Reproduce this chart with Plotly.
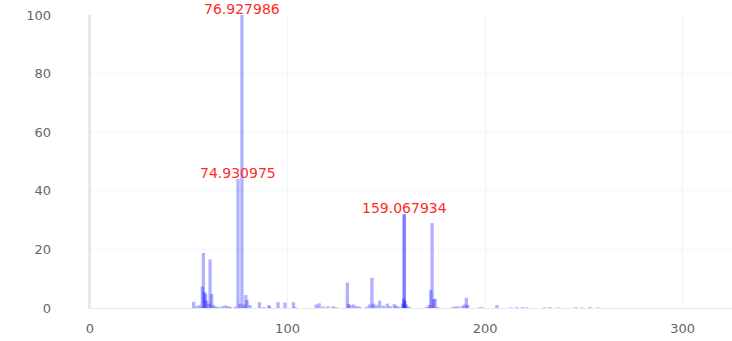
import plotly.graph_objects as go

# m/z values and relative intensities
mz = [52.5, 54.0, 55.5, 56.9, 57.4, 58.0, 58.5, 59.0, 60.2, 60.8, 61.6, 62.5,
      63.5, 65.0, 67.0, 68.5, 70.0, 71.0, 73.5, 74.930975, 75.9, 76.927986,
      77.9, 78.9, 79.5, 81.0, 85.8, 88.0, 90.5, 91.0, 95.2, 98.7,
      103.0, 104.0,
      114.5, 116.0, 118.0, 120.5, 123.0, 124.5, 130.3, 130.9, 132.0, 133.5,
      135.0, 136.5, 140.0, 141.5, 142.7, 143.5, 145.0, 146.6, 148.5, 150.5,
      152.0, 154.0, 155.0, 156.5, 158.3, 158.8, 159.067934, 159.067934,
      159.5, 160.2, 161.0, 162.0,
      170.5, 171.8, 172.5, 173.2, 174.0, 174.7, 176.0, 183.5, 185.0, 186.5,
      188.5, 189.8, 190.5, 191.3, 197.5, 199.0, 206.0, 213.0, 216.0, 219.0,
      221.0, 230.0, 233.0, 237.0, 246.0, 249.0, 253.0, 257.0]
intensity = [2.1, 0.6, 1.0, 7.3, 18.8, 5.5, 4.8, 2.5, 1.5, 16.6, 4.8, 1.0,
             0.5, 0.4, 0.6, 0.9, 0.6, 0.3, 0.4, 44.0, 1.5, 100.0,
             1.2, 4.4, 2.7, 1.0, 2.0, 0.3, 1.0, 0.5, 2.0, 1.9,
             2.0, 0.3,
             1.2, 1.6, 0.5, 0.6, 0.6, 0.3, 8.7, 1.4, 1.0, 1.2,
             0.6, 0.4, 0.4, 1.2, 10.3, 1.5, 1.0, 2.5, 0.8, 1.5,
             0.6, 1.3, 0.8, 0.5, 1.5, 3.3, 32.0, 32.0,
             2.5, 1.2, 0.4, 0.2,
             0.4, 1.0, 6.1, 29.0, 3.0, 3.2, 0.3, 0.3, 0.5, 0.5,
             0.8, 1.2, 3.5, 1.0, 0.3, 0.2, 1.0, 0.2, 0.3, 0.3,
             0.2, 0.2, 0.3, 0.2, 0.3, 0.2, 0.3, 0.2]

label_mz = [76.927986, 74.930975, 159.067934]
label_text = ["76.927986", "74.930975", "159.067934"]

x_ticks = [0, 100, 200, 300]
y_ticks = [0, 20, 40, 60, 80, 100]

fig = go.Figure()
fig.add_trace(go.Bar(
    x=mz, y=intensity, width=1.7,
    marker=dict(color="rgba(0,0,255,0.3)", line=dict(width=0)),
    hoverinfo="x+y", showlegend=False,
))

for m, t in zip(label_mz, label_text):
    h = max(i for x, i in zip(mz, intensity) if abs(x - m) < 1e-6)
    fig.add_annotation(x=m, y=h, text=t, showarrow=False, yanchor="bottom",
                       xanchor="center", yshift=-3, borderpad=0,
                       font=dict(family="DejaVu Sans", size=14, color="#ff2a2a"))

fig.update_layout(
    template="plotly_white",
    width=732, height=341,
    margin=dict(l=88, r=0, t=15, b=33),
    barmode="overlay",
    plot_bgcolor="white", paper_bgcolor="white",
    font=dict(family="DejaVu Sans", size=12, color="#666666"),
)
fig.update_xaxes(range=[-1, 325], tickvals=x_ticks,
                 gridcolor="#f2f3f5", zeroline=True, zerolinecolor="#e6e8ec",
                 zerolinewidth=3, showline=True, linecolor="#e8e9ec",
                 ticklabelstandoff=8, tickfont=dict(size=13, color="#666666"))
fig.update_yaxes(range=[0, 100], tickvals=y_ticks,
                 gridcolor="#f4f5f7", zeroline=False,
                 ticklabelstandoff=36, tickfont=dict(size=13, color="#666666"))

fig.write_html("out.html")
